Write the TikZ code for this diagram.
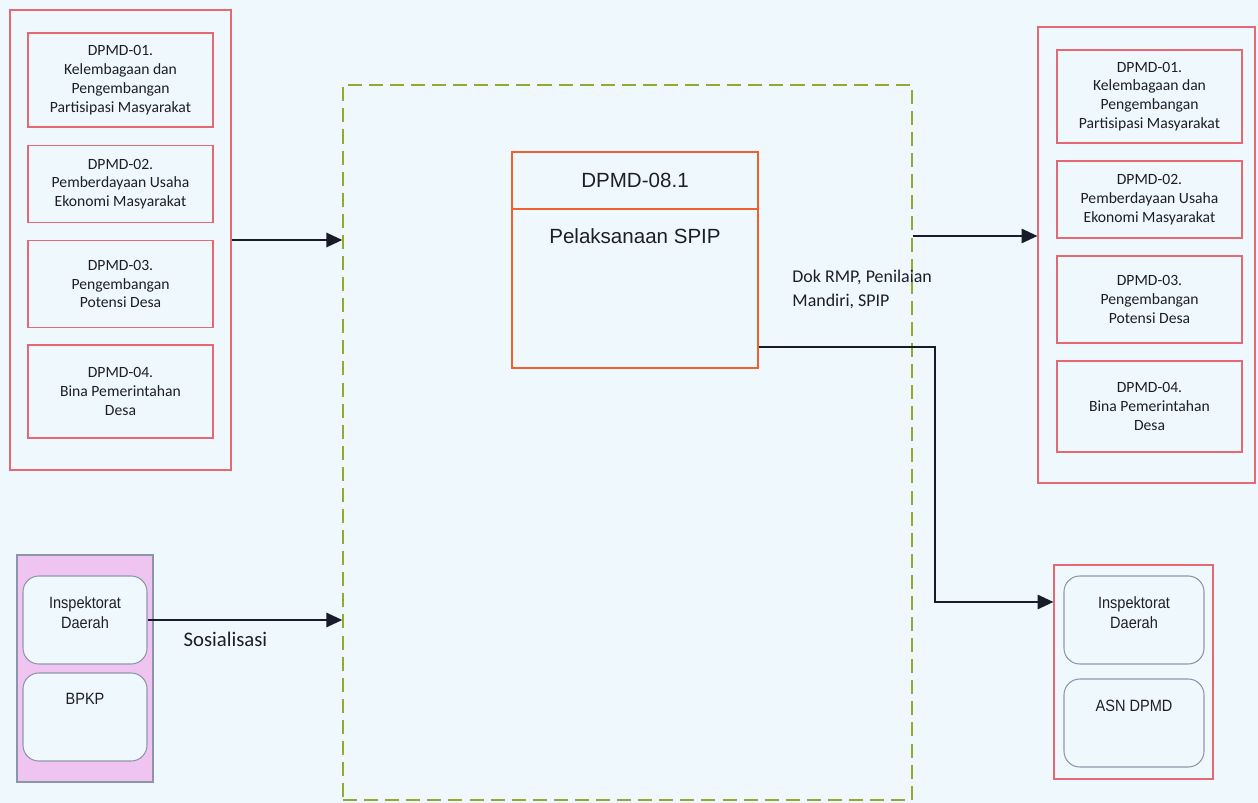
\documentclass[tikz,border=0pt]{standalone}
\usepackage{fontspec}
\usepackage{tikz}
\usetikzlibrary{arrows.meta, positioning, calc}
\setmainfont{Carlito}
\newfontfamily\arialfont{Liberation Sans}
\newfontfamily\arialnarrow[FakeStretch=0.89]{Liberation Sans}
\definecolor{bgblue}{RGB}{239,248,252}
\definecolor{unitred}{RGB}{228,105,115}
\definecolor{spiporange}{RGB}{240,95,45}
\definecolor{procgreen}{RGB}{150,168,45}
\definecolor{orchid}{RGB}{240,196,240}
\definecolor{softgray}{RGB}{140,150,170}
\definecolor{arrdark}{RGB}{24,28,42}
\definecolor{txtdark}{RGB}{30,30,40}
\newlength\pxl
\setlength\pxl{0.02cm}

\begin{document}
\begin{tikzpicture}[x=0.02cm, y=-0.02cm,
  grp/.style={rectangle, draw=unitred, line width=0.6pt, inner sep=0pt},
  unit/.style={rectangle, draw=unitred, line width=0.6pt, minimum width=185\pxl, inner sep=0pt, align=center, text=txtdark, font=\fontsize{8.9}{10.7}\selectfont},
  soft/.style={rectangle, rounded corners=9pt, draw=softgray, line width=0.6pt, fill=bgblue, minimum height=88\pxl},
  softtxt/.style={anchor=north, yshift=-15\pxl, align=center, text=txtdark, font=\arialnarrow\fontsize{9.3}{11.4}\selectfont},
  spip/.style={rectangle, draw=spiporange, line width=1.1pt, minimum width=246\pxl, inner sep=0pt, text=txtdark},
  arr/.style={-{Triangle[length=9pt, width=8pt]}, line width=1.4pt, draw=arrdark},
  lbl/.style={text=txtdark, align=left, font=\fontsize{10.2}{13.6}\selectfont}
]
\fill[bgblue] (0,0) rectangle (1258,803);
\useasboundingbox (0,0) rectangle (1258,803);

% process frame
\node[rectangle, draw=procgreen, line width=0.8pt, dash pattern=on 8pt off 4pt, minimum width=569\pxl, minimum height=715\pxl] (proc) at (627.5,442.5) {};

% inputs
\node[grp, minimum width=221\pxl, minimum height=460\pxl] (inL) at (120.5,240) {};
\node[unit, minimum height=94\pxl] (l1) at (120.5,80) {DPMD-01.\\Kelembagaan dan\\Pengembangan\\Partisipasi Masyarakat};
\node[unit, minimum height=77\pxl] (l2) at (120.5,184) {DPMD-02.\\Pemberdayaan Usaha\\Ekonomi Masyarakat};
\node[unit, minimum height=87\pxl] (l3) at (120.5,284) {DPMD-03.\\Pengembangan\\Potensi Desa};
\node[unit, minimum height=93\pxl] (l4) at (120.5,391.5) {DPMD-04.\\Bina Pemerintahan\\Desa};

\node[rectangle, draw=softgray, line width=0.6pt, fill=orchid, minimum width=136\pxl, minimum height=227\pxl] (ctrL) at (85,668.5) {};
\node[soft, minimum width=124\pxl, label={[softtxt]north:Inspektorat\\Daerah}] (insL) at (85,620) {};
\node[soft, minimum width=124\pxl, label={[softtxt]north:BPKP}] (bpkp) at (85,717) {};

% outputs
\node[grp, minimum width=217\pxl, minimum height=456\pxl] (outR) at (1146.5,255) {};
\node[unit, minimum height=93\pxl] (r1) at (1149.5,96.5) {DPMD-01.\\Kelembagaan dan\\Pengembangan\\Partisipasi Masyarakat};
\node[unit, minimum height=77\pxl] (r2) at (1149.5,199.5) {DPMD-02.\\Pemberdayaan Usaha\\Ekonomi Masyarakat};
\node[unit, minimum height=87\pxl] (r3) at (1149.5,299.5) {DPMD-03.\\Pengembangan\\Potensi Desa};
\node[unit, minimum height=91\pxl] (r4) at (1149.5,406.5) {DPMD-04.\\Bina Pemerintahan\\Desa};

\node[grp, minimum width=159\pxl, minimum height=214\pxl] (outB) at (1133.5,672) {};
\node[soft, minimum width=140\pxl, label={[softtxt]north:Inspektorat\\Daerah}] (insR) at (1134,620) {};
\node[soft, minimum width=140\pxl, label={[softtxt]north:ASN DPMD}] (asn) at (1134,723) {};

% activity
\node[spip, minimum height=57\pxl, font=\arialfont\fontsize{11.7}{14}\selectfont] (code) at (635,180.5) {DPMD-08.1};
\node[spip, minimum height=159\pxl, label={[anchor=north, yshift=-14\pxl, text=txtdark, font=\arialfont\fontsize{11.7}{14}\selectfont]north:Pelaksanaan SPIP}] (act) at (635,288.5) {};

% connectors
\coordinate (inR) at ([yshift=19\pxl]outR.west);
\coordinate (tR) at ([yshift=70\pxl]outB.west);
\draw[arr] (inL.east) -- (inL.east -| proc.west);
\draw[arr] (insL.east) -- node[lbl, below=5\pxl, pos=0.4, font=\fontsize{11.8}{14}\selectfont] {Sosialisasi} (insL.east -| proc.west);
\draw[arr] (inR -| proc.east) -- (inR);
\draw[arr] ([yshift=22\pxl]act.south east) -- node[lbl, anchor=south west, pos=0.15, yshift=31\pxl] {Dok RMP, Penilaian\\Mandiri, SPIP} ++(176,0) |- (tR);
\end{tikzpicture}
\end{document}
